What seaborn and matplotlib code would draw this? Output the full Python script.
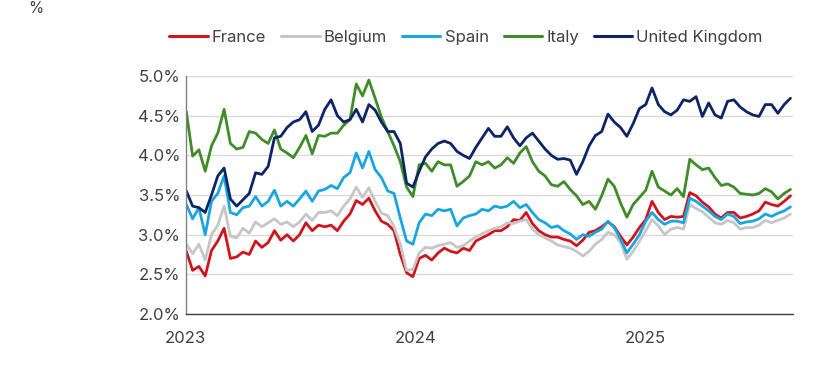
import matplotlib
matplotlib.use("Agg")
import matplotlib.pyplot as plt
import matplotlib.dates as mdates
from matplotlib.lines import Line2D
from matplotlib.ticker import FuncFormatter
import seaborn as sns
import pandas as pd

# 10-day sampling, Jan 2023 -> Aug 2025 (in %)
dates = pd.date_range("2023-01-02", periods=97, freq="10D")

france = [2.79, 2.55, 2.60, 2.48, 2.80, 2.92, 3.08, 2.70, 2.72, 2.78, 2.75, 2.92, 2.84, 2.90, 3.05, 2.93, 3.00, 2.92, 3.00, 3.15,
          3.05, 3.12, 3.10, 3.12, 3.05, 3.17, 3.26, 3.43, 3.38, 3.46, 3.30, 3.17, 3.13, 3.05, 2.75,
          2.52, 2.47, 2.70, 2.74, 2.68, 2.77, 2.83, 2.79, 2.77, 2.83, 2.80, 2.92, 2.96, 3.00, 3.05, 3.05, 3.10, 3.19, 3.18, 3.28,
          3.14, 3.05, 3.00, 2.97, 2.97, 2.94, 2.92, 2.86, 2.93, 3.03, 3.05, 3.10, 3.16, 3.10,
          2.98, 2.87, 2.97, 3.09, 3.19, 3.42, 3.28, 3.19, 3.23, 3.22, 3.23, 3.53, 3.49, 3.41, 3.35, 3.26, 3.21, 3.28, 3.28, 3.21,
          3.23, 3.26, 3.30, 3.41, 3.38, 3.36, 3.42, 3.49]
belgium = [2.88, 2.76, 2.88, 2.68, 3.00, 3.12, 3.36, 2.98, 2.96, 3.08, 3.02, 3.16, 3.10, 3.15, 3.20, 3.13, 3.16, 3.10, 3.16, 3.26,
           3.18, 3.28, 3.28, 3.30, 3.24, 3.36, 3.45, 3.60, 3.47, 3.59, 3.42, 3.27, 3.24, 3.10, 2.88,
           2.55, 2.56, 2.77, 2.84, 2.83, 2.86, 2.88, 2.90, 2.84, 2.86, 2.92, 2.97, 3.01, 3.05, 3.08, 3.10, 3.15, 3.14, 3.17, 3.19,
           3.07, 3.00, 2.96, 2.92, 2.87, 2.85, 2.83, 2.79, 2.73, 2.79, 2.88, 2.94, 3.03, 3.00,
           2.90, 2.69, 2.79, 2.92, 3.05, 3.19, 3.11, 3.00, 3.07, 3.09, 3.07, 3.38, 3.33, 3.29, 3.22, 3.15, 3.13, 3.18, 3.15, 3.07,
           3.09, 3.09, 3.12, 3.18, 3.15, 3.18, 3.21, 3.26]
spain = [3.38, 3.20, 3.34, 3.00, 3.42, 3.52, 3.74, 3.28, 3.25, 3.34, 3.36, 3.48, 3.36, 3.42, 3.56, 3.36, 3.42, 3.36, 3.45, 3.55,
         3.42, 3.55, 3.57, 3.62, 3.58, 3.72, 3.78, 4.03, 3.84, 4.05, 3.82, 3.72, 3.55, 3.52, 3.21,
         2.92, 2.88, 3.15, 3.26, 3.24, 3.32, 3.30, 3.32, 3.11, 3.21, 3.24, 3.26, 3.32, 3.30, 3.36, 3.34, 3.36, 3.42, 3.34, 3.38,
         3.28, 3.19, 3.15, 3.09, 3.11, 3.05, 3.01, 2.94, 3.00, 2.98, 3.03, 3.07, 3.17, 3.09,
         2.94, 2.77, 2.88, 3.00, 3.17, 3.28, 3.19, 3.13, 3.17, 3.17, 3.15, 3.46, 3.42, 3.36, 3.30, 3.23, 3.19, 3.26, 3.23, 3.14,
         3.16, 3.17, 3.20, 3.26, 3.23, 3.27, 3.30, 3.35]
italy = [4.55, 3.99, 4.07, 3.80, 4.12, 4.28, 4.58, 4.15, 4.08, 4.10, 4.30, 4.28, 4.20, 4.15, 4.32, 4.08, 4.03, 3.97, 4.10, 4.25,
         4.02, 4.25, 4.24, 4.28, 4.28, 4.38, 4.45, 4.90, 4.75, 4.95, 4.72, 4.48, 4.30, 4.12, 3.92,
         3.60, 3.48, 3.88, 3.90, 3.80, 3.92, 3.88, 3.88, 3.61, 3.67, 3.74, 3.92, 3.88, 3.92, 3.84, 3.88, 3.97, 3.90, 4.03, 4.11,
         3.92, 3.80, 3.74, 3.63, 3.61, 3.67, 3.57, 3.49, 3.38, 3.42, 3.32, 3.49, 3.70, 3.61,
         3.40, 3.22, 3.38, 3.47, 3.56, 3.80, 3.60, 3.55, 3.50, 3.58, 3.48, 3.95, 3.88, 3.82, 3.84, 3.72, 3.62, 3.64, 3.60, 3.52,
         3.51, 3.50, 3.52, 3.58, 3.54, 3.45, 3.52, 3.57]
uk = [3.55, 3.36, 3.34, 3.28, 3.50, 3.74, 3.84, 3.45, 3.36, 3.44, 3.52, 3.78, 3.76, 3.86, 4.22, 4.24, 4.35, 4.42, 4.45, 4.55,
      4.30, 4.38, 4.58, 4.70, 4.50, 4.42, 4.45, 4.58, 4.42, 4.64, 4.57, 4.42, 4.30, 4.30, 4.15,
      3.65, 3.60, 3.80, 3.98, 4.08, 4.15, 4.18, 4.15, 4.05, 4.00, 3.96, 4.10, 4.22, 4.34, 4.24, 4.24, 4.36, 4.22, 4.12, 4.22,
      4.28, 4.18, 4.08, 4.00, 3.95, 3.96, 3.94, 3.76, 3.92, 4.12, 4.25, 4.30, 4.52, 4.42,
      4.35, 4.24, 4.40, 4.59, 4.64, 4.85, 4.64, 4.55, 4.51, 4.57, 4.70, 4.68, 4.74, 4.49, 4.66, 4.51, 4.47, 4.68, 4.70, 4.61,
      4.55, 4.51, 4.49, 4.64, 4.64, 4.53, 4.64, 4.72]

countries = ["France", "Belgium", "Spain", "Italy", "United Kingdom"]
colors = ["#d0141c", "#c6c6c6", "#19a6e0", "#3f8c28", "#0d2566"]

df = pd.DataFrame({"date": dates, "France": france, "Belgium": belgium, "Spain": spain,
                   "Italy": italy, "United Kingdom": uk})
df = df.melt(id_vars="date", var_name="country", value_name="yield")

sns.set_theme(style="white")
plt.rcParams["font.family"] = ["Inter", "DejaVu Sans"]

fig = plt.figure(figsize=(8.25, 3.75), dpi=100)
ax = fig.add_axes([0.2251, 0.1627, 0.7361, 0.6346])

sns.lineplot(data=df, x="date", y="yield", hue="country", hue_order=countries,
             palette=colors, linewidth=2.0, ax=ax, legend=False)

ax.set_xlim(pd.Timestamp("2023-01-01"), pd.Timestamp("2025-08-23"))
ax.set_ylim(2.0, 5.0)
ax.set_yticks([2.0, 2.5, 3.0, 3.5, 4.0, 4.5, 5.0])
ax.yaxis.set_major_formatter(FuncFormatter(lambda v, p: f"{v:.1f}%"))
ax.xaxis.set_major_locator(mdates.YearLocator())
ax.xaxis.set_major_formatter(mdates.DateFormatter("%Y"))
ax.set_xlabel("")
ax.set_ylabel("")

ax.yaxis.grid(True, color="#dadada", linewidth=1)
ax.set_axisbelow(True)
sns.despine(ax=ax)
ax.spines["left"].set_color("#808080")
ax.spines["bottom"].set_color("#404040")
ax.spines["left"].set_linewidth(1)
ax.spines["bottom"].set_linewidth(1)

ax.tick_params(axis="y", length=0, pad=4, labelsize=12, labelcolor="#404040")
ax.tick_params(axis="x", direction="in", length=4, width=1, color="#404040", pad=12,
               labelsize=12, labelcolor="#404040")

handles = [Line2D([0], [0], color=c, lw=2.2) for c in colors]
fig.legend(handles, countries, loc="center", bbox_to_anchor=(0.565, 0.901), ncol=5,
           frameon=False, fontsize=12, handlelength=2.3, handletextpad=0.25,
           columnspacing=0.9, labelcolor="#404040")

# unit label in the top-left corner
fig.text(0.044, 0.998, "%", ha="center", va="top", fontsize=11, color="#404040")

fig.savefig("out.png", dpi=100)
